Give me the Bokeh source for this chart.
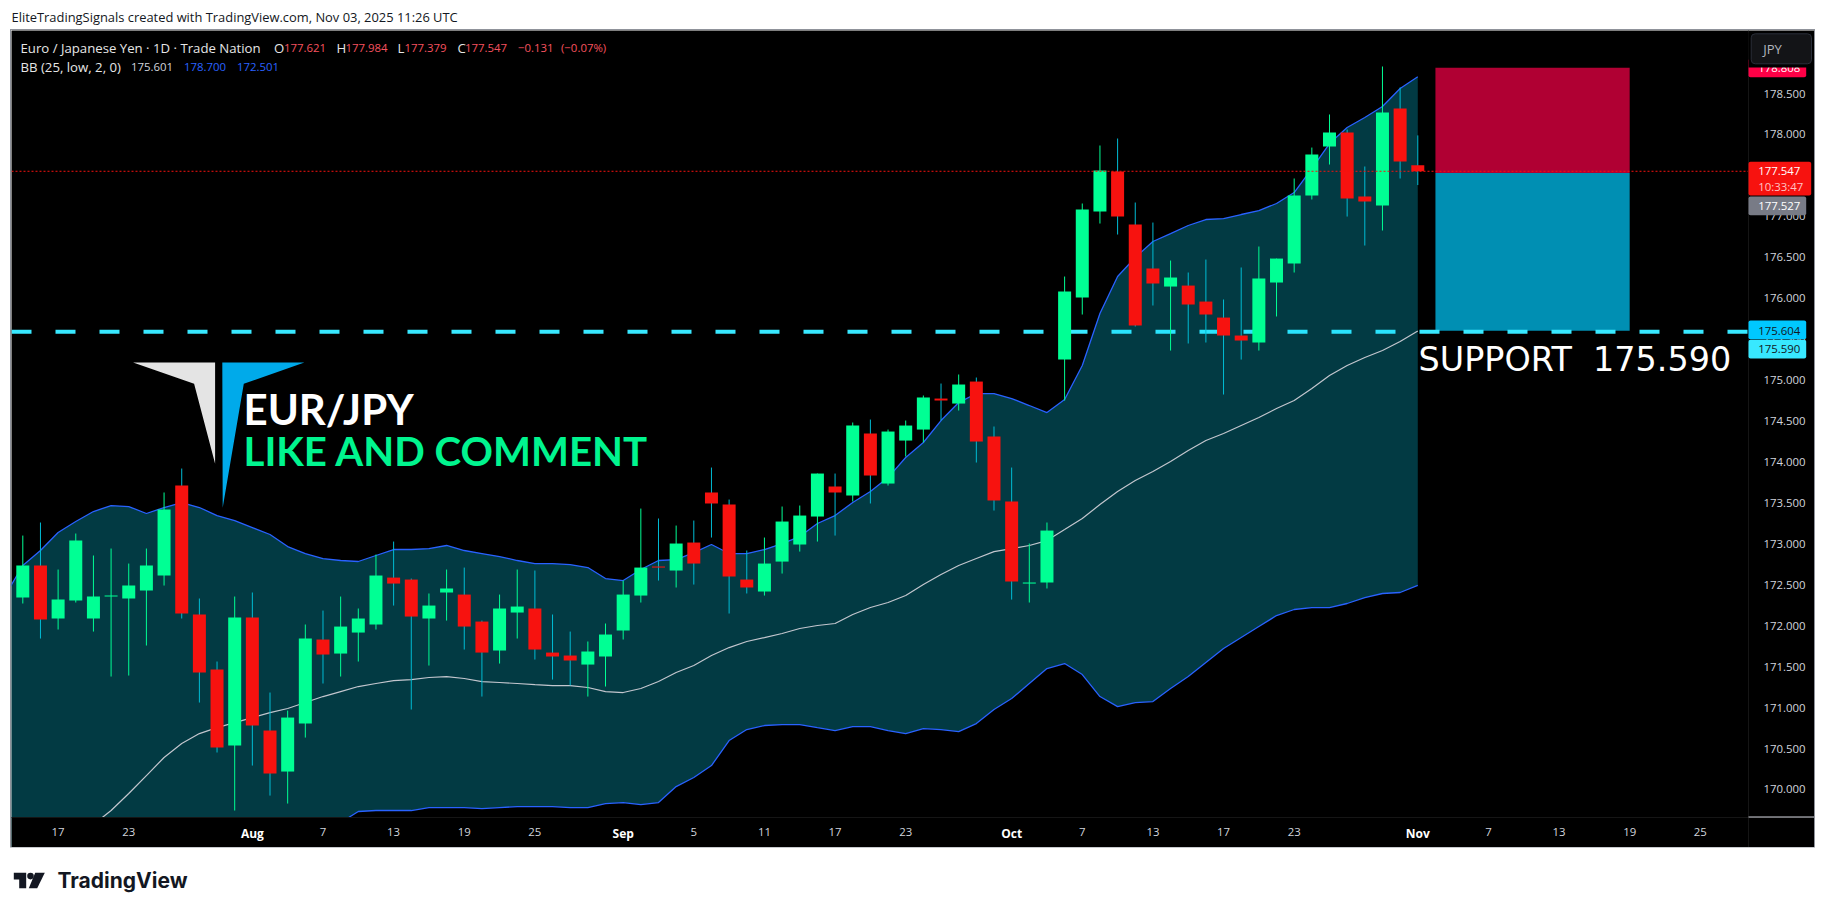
from bokeh.plotting import figure
from bokeh.layouts import column
from bokeh.models import (Range1d, FixedTicker, NumeralTickFormatter, Label, BoxAnnotation,
                          PolyAnnotation, ColumnDataSource, LinearAxis)
from bokeh.embed import file_html
from bokeh.resources import INLINE
from bokeh.core.properties import value

opens = [172.352,172.742,172.096,172.315,172.096,172.364,172.340,172.437,172.620,173.717,
172.145,171.474,170.548,172.108,170.731,170.231,170.816,171.840,171.669,171.925,
172.023,172.595,172.571,172.096,172.413,172.388,172.059,171.706,172.169,172.218,
171.681,171.645,171.535,171.633,171.950,172.376,172.730,172.681,173.022,173.632,
173.485,172.571,172.425,172.790,172.998,173.339,173.705,173.595,174.351,173.741,
174.265,174.399,174.777,174.716,174.984,174.314,173.522,172.522,172.535,175.252,
176.008,177.056,177.544,176.898,176.362,176.142,176.154,175.959,175.764,175.545,
175.460,176.191,176.423,177.251,177.849,178.019,177.239,177.129,178.312,177.621]
closes = [172.742,172.084,172.327,173.046,172.364,172.376,172.498,172.742,173.424,172.157,
171.438,170.524,172.108,170.792,170.207,170.889,171.852,171.657,171.998,172.096,
172.620,172.522,172.120,172.254,172.462,171.998,171.681,172.218,172.242,171.718,
171.633,171.584,171.694,171.901,172.388,172.717,172.717,173.010,172.766,173.498,
172.608,172.474,172.766,173.278,173.351,173.863,173.632,174.448,173.839,174.375,
174.448,174.790,174.753,174.948,174.253,173.534,172.547,172.535,173.168,176.081,
177.081,177.556,176.995,175.667,176.179,176.252,175.923,175.801,175.545,175.484,
176.240,176.483,177.251,177.751,178.019,177.215,177.178,178.263,177.666,177.547]
highs = [173.107,173.266,172.693,173.132,172.864,172.949,172.766,172.949,173.632,173.924,
172.340,171.572,172.364,172.413,171.194,170.974,172.023,172.193,172.364,172.218,
172.876,173.034,172.583,172.401,172.693,172.717,172.071,172.388,172.693,172.681,
172.145,171.937,171.816,172.035,172.559,173.436,173.315,173.229,173.290,173.936,
173.546,172.925,173.083,173.461,173.473,173.863,173.863,174.485,174.521,174.399,
174.509,174.814,174.960,175.070,175.033,174.436,173.936,173.010,173.266,176.264,
177.154,177.861,177.946,177.166,176.922,176.459,176.313,176.471,175.984,176.374,
176.630,176.483,177.459,177.836,178.239,178.056,177.605,178.824,178.568,177.984]
lows = [172.279,171.852,171.962,172.291,171.937,171.389,171.401,171.767,172.498,172.096,
171.072,170.463,169.756,170.304,169.938,169.841,170.645,171.304,171.389,171.572,
171.962,172.254,170.987,171.523,172.071,171.718,171.145,171.547,171.852,171.596,
171.352,171.279,171.145,171.267,171.840,172.291,172.559,172.474,172.510,173.083,
172.157,172.401,172.376,172.644,172.912,173.034,173.107,173.522,173.498,173.717,
174.070,174.241,174.509,174.631,173.997,173.412,172.327,172.291,172.462,174.753,
175.801,176.910,176.776,175.655,175.911,175.362,175.448,175.460,174.826,175.252,
175.362,175.777,176.313,177.203,177.629,176.995,176.642,176.825,177.459,177.379]

# Bollinger bands, first value is one bar before the visible window
bb_upper = [172.376,172.742,172.925,173.144,173.278,173.400,173.473,173.461,173.376,173.449,173.510,
173.449,173.351,173.290,173.205,173.120,172.973,172.888,172.827,172.803,172.791,
172.864,172.937,172.937,172.949,172.986,172.925,172.888,172.851,172.803,172.766,
172.766,172.754,172.717,172.583,172.559,172.693,172.803,172.815,172.900,172.998,
172.888,172.888,172.937,173.010,173.095,173.254,173.351,173.510,173.644,173.814,
174.058,174.241,174.509,174.728,174.838,174.838,174.777,174.692,174.606,174.765,
175.179,175.813,176.264,176.496,176.691,176.788,176.886,176.959,176.971,177.020,
177.068,177.154,177.288,177.580,177.885,178.080,178.202,178.336,178.555,178.700]
bb_mid = [168.0,168.3,168.6,168.9,169.25,169.585,169.756,169.963,170.182,170.402,170.572,
170.694,170.767,170.828,170.889,170.950,170.999,171.072,171.145,171.206,171.267,
171.304,171.340,171.352,171.377,171.389,171.365,171.328,171.316,171.304,171.291,
171.279,171.279,171.255,171.206,171.194,171.243,171.328,171.438,171.523,171.645,
171.742,171.816,171.864,171.913,171.974,172.011,172.035,172.145,172.230,172.291,
172.376,172.510,172.632,172.742,172.827,172.912,172.949,172.986,173.046,173.180,
173.315,173.485,173.644,173.778,173.887,174.009,174.144,174.265,174.351,174.448,
174.546,174.655,174.753,174.899,175.058,175.179,175.277,175.362,175.472,175.601]
bb_lower = [163.8,164.0,164.2,164.5,165.0,165.6,166.04,166.465,166.99,167.355,167.634,
167.94,168.18,168.37,168.57,168.78,169.03,169.26,169.46,169.61,169.744,
169.756,169.756,169.756,169.792,169.792,169.792,169.780,169.792,169.804,169.804,
169.804,169.792,169.792,169.841,169.853,169.829,169.853,170.048,170.158,170.304,
170.609,170.743,170.792,170.804,170.804,170.767,170.731,170.779,170.779,170.731,
170.694,170.755,170.743,170.718,170.816,170.987,171.121,171.304,171.486,171.547,
171.413,171.145,171.023,171.072,171.084,171.243,171.389,171.560,171.730,171.864,
171.998,172.132,172.206,172.230,172.230,172.279,172.352,172.401,172.413,172.501]

price_ticks = [170.0,170.5,171.0,171.5,172.0,172.5,173.0,173.5,174.0,174.5,175.0,175.5,
               176.0,176.5,177.0,177.5,178.0,178.5]
day_ticks = {2:"17",6:"23",17:"7",21:"13",25:"19",29:"25",38:"5",42:"11",46:"17",50:"23",
             60:"7",64:"13",68:"17",72:"23",83:"7",87:"13",91:"19",95:"25"}
month_ticks = {13:"Aug",34:"Sep",56:"Oct",79:"Nov"}

support_level = 175.590
last_close = 177.547
pos_stop = 178.808
pos_entry = 177.527
pos_target = 175.604
pos_first_bar = 80
pos_last_bar = 91

assert all(len(a) == 80 for a in (opens, closes, highs, lows))
assert all(len(a) == 81 for a in (bb_upper, bb_mid, bb_lower))

GREEN, RED, CYAN_WICK = "#00ff94", "#f7120f", "#00bcd4"
FONT = "Open Sans"
NUM = "11.4px"
TXT = "13.2px"

# reference-pixel helpers, used only to place decorations
def X(px): return (px - 22.3) / 17.658
def Y(py): return 176 + (297.7 - py) / 82.05
# the printed price scale
def YS(py): return 176 + (297.7 - py) / 81.88

# the frame is the whole black panel; the two scales sit inside it at fixed locations
p = figure(width=1803, height=817, output_backend="svg", toolbar_location=None,
           x_range=Range1d(X(11), X(1814)), y_range=Range1d(Y(847), Y(30)),
           x_axis_location=None, y_axis_location=None,
           background_fill_color="black", border_fill_color="black",
           min_border=0, outline_line_color=None)
p.extra_y_ranges = {"scale": Range1d(YS(847), YS(30))}
p.margin = (0, 0, 0, 3)
p.styles = {"outline": "1px solid #8f929a"}
p.grid.visible = False

def style_axis(a, color="#d1d4dc", weight="normal", size=NUM, standoff=9):
    a.major_tick_line_color = None
    a.minor_tick_line_color = None
    a.axis_line_color = "#151515"
    a.major_label_text_color = color
    a.major_label_text_font = FONT
    a.major_label_text_font_size = size
    a.major_label_text_font_style = weight
    a.major_label_standoff = standoff

ya = LinearAxis(ticker=FixedTicker(ticks=price_ticks), formatter=NumeralTickFormatter(format="0.000"),
                fixed_location=X(1748), y_range_name="scale")
style_axis(ya)
p.add_layout(ya, "right")
xa = LinearAxis(ticker=FixedTicker(ticks=list(day_ticks)), major_label_overrides=day_ticks,
                fixed_location=Y(817))
style_axis(xa, standoff=4)
p.add_layout(xa, "below")
xm = LinearAxis(ticker=FixedTicker(ticks=list(month_ticks)), major_label_overrides=month_ticks,
                fixed_location=Y(817))
style_axis(xm, color="#ffffff", weight="bold", size="12px", standoff=1)
p.add_layout(xm, "below")

# position tool
p.quad(left=[pos_first_bar], right=[pos_last_bar], top=[pos_stop], bottom=[pos_entry],
       fill_color="#b00033", line_color=None)
p.quad(left=[pos_first_bar], right=[pos_last_bar], top=[pos_entry], bottom=[pos_target],
       fill_color="#008fb3", line_color=None)

# support line, under the translucent band fill
p.line([X(11), X(1748)], [support_level, support_level], line_color="#38e8ff", line_width=4,
       line_dash="20 24")

band_x = list(range(-1, 80))
p.varea(band_x, bb_lower, bb_upper, fill_color="#06d8f6", fill_alpha=0.27)
p.line(band_x, bb_mid, line_color="#c3c6ce", line_width=1.2)
p.line(band_x, bb_upper, line_color="#2962ff", line_width=1.3)
p.line(band_x, bb_lower, line_color="#2962ff", line_width=1.3)

bars = list(range(80))
up = [c >= o for o, c in zip(opens, closes)]
src = ColumnDataSource(dict(
    x=bars, high=highs, low=lows,
    top=[max(o, c) for o, c in zip(opens, closes)],
    bottom=[min(o, c) for o, c in zip(opens, closes)],
    wick=[GREEN if u else CYAN_WICK for u in up],
    body=[GREEN if u else RED for u in up]))
p.segment("x", "high", "x", "low", source=src, line_color="wick", line_width=1)
p.vbar("x", 13 / 17.658, "top", "bottom", source=src, fill_color="body", line_color=None)

p.line([X(11), X(1748)], [last_close, last_close], line_color=RED, line_width=1, line_dash="2 2")

# time-scale strip hides whatever runs under the pane bottom
p.quad(left=[X(11)], right=[X(1814)], top=[Y(817)], bottom=[Y(847)], fill_color="black", line_color=None)

def label(px, py, text, color, size=NUM, font=FONT, align="left", weight="normal"):
    p.add_layout(Label(x=X(px), y=Y(py), text=text, text_color=color, text_font=font,
                       text_font_size=size, text_align=align, text_baseline="middle",
                       text_font_style=weight))

def box(l, r, t, b, color, radius=0, line=None):
    p.add_layout(BoxAnnotation(left=X(l), right=X(r), top=Y(t), bottom=Y(b), fill_color=color,
                               fill_alpha=1, line_color=line, line_alpha=1 if line else 0,
                               border_radius=radius, level="annotation"))

# watermark logo
p.add_layout(PolyAnnotation(xs=[X(v) for v in (132.6, 214.6, 214.6, 193.6)],
                            ys=[Y(v) for v in (362, 362, 463.3, 383.3)],
                            fill_color="#e4e4e4", fill_alpha=1, line_color=None, level="annotation"))
p.add_layout(PolyAnnotation(xs=[X(v) for v in (221.8, 303.9, 243.3, 222.2)],
                            ys=[Y(v) for v in (362, 362, 383.3, 507.3)],
                            fill_color="#00aaea", fill_alpha=1, line_color=None, level="annotation"))
label(243, 408, "EUR/JPY", "#ffffff", size="42px", font="Lato", weight="bold")
label(243, 450, "LIKE AND COMMENT", "#00f58f", size="40.2px", font="Lato", weight="bold")
label(1418, 358.5, "SUPPORT\u00a0\u00a0175.590", "#ffffff", size="33.4px", font="DejaVu Sans")

# legend
label(20, 47, "Euro / Japanese Yen · 1D · Trade Nation", "#e6e6e6", size=TXT)
for px, txt in ((273.5, "O"), (336, "H"), (397, "L"), (457, "C")):
    label(px, 47, txt, "#e6e6e6", size=TXT)
for px, txt in ((283.4, "177.621"), (345, "177.984"), (404, "177.379"), (464.4, "177.547"),
                (517.4, "−0.131"), (560.5, "(−0.07%)")):
    label(px, 47, txt, "#f7525f")
label(20, 66, "BB (25, low, 2, 0)", "#e6e6e6", size=TXT)
label(130.4, 66, "175.601", "#d1d4dc")
label(183.4, 66, "178.700", "#2962ff")
label(236.4, 66, "172.501", "#2962ff")

# price tags
box(1748, 1805.7, 58, 76.7, "#ff0046", radius=2)
label(1757.7, 67.3, "178.808", "#ffffff")
box(1748, 1814, 32, 67, "#000000")
box(1750.7, 1811, 33.3, 63.3, "#131417", radius=4, line="#2a2e39")
label(1772, 48.5, "JPY", "#b2b5be", size="13px", align="center")
box(1748, 1810.7, 161.3, 195, RED, radius=2)
label(1757.7, 170.7, "177.547", "#ffffff")
label(1757.7, 185.7, "10:33:47", "#ffc4c4")
box(1748, 1805.7, 196, 214.7, "#787b86", radius=2)
label(1757.7, 205.7, "177.527", "#ffffff")
box(1748, 1805.7, 320, 338.7, "#00c8ff", radius=2)
label(1757.7, 330, "175.604", "#131722")
box(1748, 1805.7, 339.3, 358, "#38e8ff", radius=2)
label(1757.7, 348.7, "175.590", "#131722")
box(1748, 1814, 816, 817, "#d1d4dc")

def strip(height, top, bottom):
    f = figure(width=1810, height=height, output_backend="svg", toolbar_location=None,
               x_range=Range1d(8, 1818), y_range=Range1d(bottom, top),
               x_axis_location=None, y_axis_location=None, outline_line_color=None,
               background_fill_color="white", border_fill_color="white",
               min_border=0)
    f.grid.visible = False
    return f

header = strip(22, 8, 30)
header.text([11], [16.5], text=["EliteTradingSignals created with TradingView.com, Nov 03, 2025 11:26 UTC"],
            text_color="#131722", text_font=value(FONT), text_font_size="12.9px", text_baseline="middle")

footer = strip(58, 847, 905)
INK = "#131722"
footer.patch([13.3, 25.7, 25.7, 18.7, 18.7, 13.3], [872.3, 872.3, 887.7, 887.7, 879, 879],
             fill_color=INK, line_color=None)
footer.scatter([30], [875.6], size=6.6, fill_color=INK, line_color=None)
footer.patch([34.7, 44.3, 36.7, 28.3], [872.3, 872.3, 887.7, 887.7], fill_color=INK, line_color=None)
footer.text([57], [880], text=["TradingView"], text_color=INK, text_font=value("Inter"),
            text_font_size="21px", text_font_style="bold", text_baseline="middle")

page = column(header, p, footer, spacing=0)
page.margin = (8, 0, 0, 8)
open("out.html", "w").write(file_html(page, INLINE))
